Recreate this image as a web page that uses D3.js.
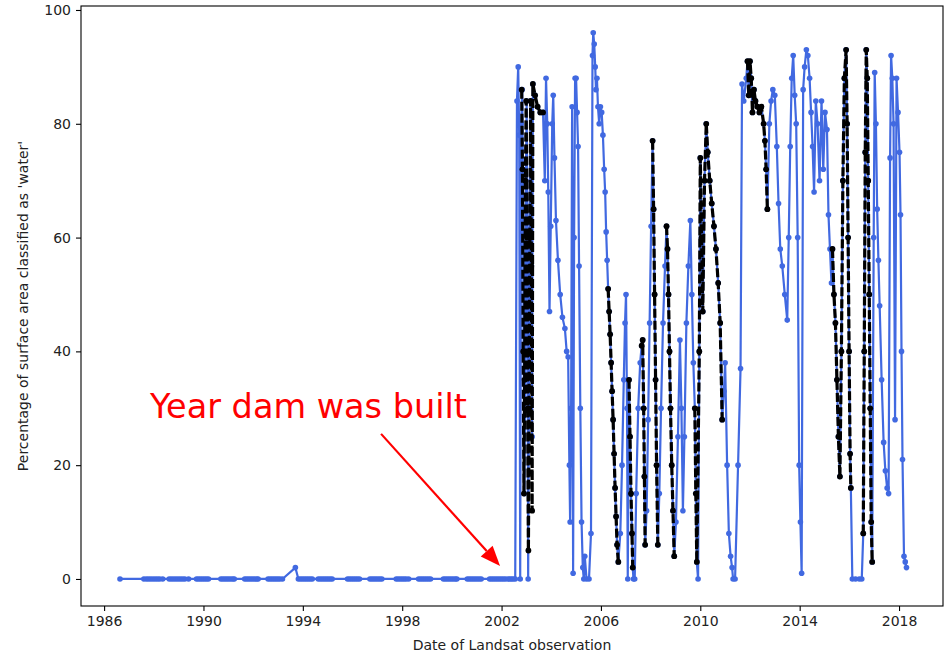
<!DOCTYPE html>
<html>
<head>
<meta charset="utf-8">
<script src="https://cdn.jsdelivr.net/npm/d3@7"></script>
<style>
  html, body { margin: 0; padding: 0; background: #fff; }
  svg { display: block; }
  text { font-family: "DejaVu Sans", sans-serif; }
</style>
</head>
<body>
<svg id="chart" width="947" height="656"></svg>
<script>
// ---------------- DATA (decimal year, % water) ----------------
const xTickYears = [1986, 1990, 1994, 1998, 2002, 2006, 2010, 2014, 2018];
const yTickValues = [0, 20, 40, 60, 80, 100];
const xLabel = "Date of Landsat observation";
const yLabel = "Percentage of surface area classified as 'water'";

// Observations before the dam (all ~0 %)
const preDamDates = [
  1986.64,
  1987.60, 1987.70, 1987.79, 1987.88, 1987.97, 1988.06, 1988.15, 1988.24, 1988.36,
  1988.62, 1988.71, 1988.80, 1988.89, 1988.98, 1989.07, 1989.16, 1989.25, 1989.40,
  1989.72, 1989.80, 1989.88, 1989.96, 1990.04, 1990.12, 1990.20,
  1990.70, 1990.78, 1990.86, 1990.94, 1991.02, 1991.10, 1991.18, 1991.24,
  1991.66, 1991.74, 1991.82, 1991.90, 1991.98, 1992.06, 1992.14, 1992.20,
  1992.60, 1992.68, 1992.76, 1992.84, 1992.92, 1993.00, 1993.08, 1993.18,
  1993.70, 1993.82, 1993.90, 1993.98, 1994.06, 1994.14, 1994.22, 1994.30, 1994.38,
  1994.62, 1994.70, 1994.78, 1994.86, 1994.94, 1995.02, 1995.10, 1995.18,
  1995.80, 1995.88, 1995.96, 1996.04, 1996.12, 1996.20, 1996.28,
  1996.70, 1996.78, 1996.86, 1996.94, 1997.02, 1997.10, 1997.18,
  1997.76, 1997.84, 1997.92, 1998.00, 1998.08, 1998.16, 1998.26,
  1998.66, 1998.74, 1998.82, 1998.90, 1998.98, 1999.06, 1999.14,
  1999.66, 1999.74, 1999.82, 1999.90, 1999.98, 2000.06, 2000.14, 2000.20,
  2000.62, 2000.70, 2000.78, 2000.86, 2000.94, 2001.02, 2001.10, 2001.18,
  2001.52, 2001.60, 2001.68, 2001.76, 2001.84, 2001.92, 2002.00, 2002.08, 2002.16, 2002.26
];
const preDamValues = preDamDates.map(d => d === 1993.70 ? 2 : 0);

// Observations after the dam: [decimal year, % water]
const postDamObs = [
  [2002.33, 0], [2002.40, 0], [2002.47, 0], [2002.55, 0], [2002.62, 84], [2002.67, 90], [2002.71, 78],
  [2002.75, 0], [2002.79, 80], [2002.83, 86], [2002.86, 72], [2002.89, 40], [2002.92, 15], [2002.95, 35],
  [2002.98, 70], [2003.01, 84], [2003.04, 60], [2003.07, 0], [2003.10, 30], [2003.13, 60], [2003.17, 84],
  [2003.20, 55], [2003.23, 25], [2003.26, 87], [2003.35, 85], [2003.45, 83], [2003.56, 82], [2003.67, 82],
  [2003.74, 70], [2003.79, 88], [2003.84, 80], [2003.88, 68], [2003.93, 47], [2003.98, 62], [2004.04, 80],
  [2004.08, 85], [2004.13, 74], [2004.19, 63], [2004.27, 56], [2004.36, 50], [2004.45, 46], [2004.55, 44],
  [2004.62, 40], [2004.68, 39], [2004.73, 20], [2004.76, 10], [2004.80, 30], [2004.84, 83], [2004.88, 1],
  [2004.92, 60], [2004.96, 88], [2005.00, 88], [2005.04, 82], [2005.08, 76], [2005.12, 55], [2005.17, 30],
  [2005.22, 10], [2005.27, 2], [2005.31, 0], [2005.35, 4], [2005.42, 0], [2005.52, 0], [2005.60, 8],
  [2005.66, 92], [2005.69, 96], [2005.73, 94], [2005.77, 90], [2005.80, 86], [2005.84, 88], [2005.88, 83],
  [2005.93, 80], [2005.98, 83], [2006.03, 82], [2006.08, 78], [2006.13, 72], [2006.17, 68], [2006.21, 61],
  [2006.25, 56], [2006.29, 51], [2006.33, 47], [2006.37, 43], [2006.41, 38], [2006.45, 33], [2006.49, 28],
  [2006.53, 22], [2006.57, 16], [2006.61, 11], [2006.65, 6], [2006.70, 3], [2006.78, 8], [2006.85, 20],
  [2006.92, 35], [2006.97, 45], [2007.01, 50], [2007.05, 30], [2007.08, 0], [2007.13, 35], [2007.17, 25],
  [2007.21, 15], [2007.25, 8], [2007.28, 2], [2007.31, 0], [2007.36, 0], [2007.42, 15], [2007.50, 30],
  [2007.58, 38], [2007.64, 41], [2007.68, 42], [2007.72, 30], [2007.75, 18], [2007.78, 6], [2007.84, 12],
  [2007.90, 28], [2007.96, 45], [2008.02, 62], [2008.08, 77], [2008.12, 65], [2008.16, 50], [2008.20, 35],
  [2008.24, 20], [2008.29, 6], [2008.35, 15], [2008.42, 30], [2008.50, 45], [2008.58, 55], [2008.64, 62],
  [2008.68, 58], [2008.72, 50], [2008.76, 40], [2008.80, 30], [2008.85, 20], [2008.90, 12], [2008.95, 4],
  [2009.02, 10], [2009.10, 25], [2009.18, 42], [2009.24, 30], [2009.30, 12], [2009.36, 25], [2009.44, 45],
  [2009.52, 55], [2009.60, 63], [2009.66, 50], [2009.72, 38], [2009.78, 30], [2009.82, 15], [2009.86, 3],
  [2009.91, 0], [2009.96, 40], [2010.00, 74], [2010.05, 60], [2010.10, 47], [2010.17, 70], [2010.24, 80],
  [2010.30, 75], [2010.38, 70], [2010.46, 66], [2010.55, 62], [2010.63, 58], [2010.72, 52], [2010.80, 45],
  [2010.88, 28], [2010.95, 33], [2011.00, 38], [2011.08, 20], [2011.15, 8], [2011.22, 4], [2011.28, 2],
  [2011.32, 0], [2011.40, 0], [2011.52, 20], [2011.62, 37], [2011.68, 87], [2011.75, 84], [2011.85, 88],
  [2011.90, 91], [2011.95, 85], [2012.00, 91], [2012.05, 88], [2012.10, 82], [2012.16, 86], [2012.22, 84],
  [2012.30, 83], [2012.38, 82], [2012.46, 83], [2012.55, 80], [2012.60, 77], [2012.65, 72], [2012.70, 65],
  [2012.78, 80], [2012.85, 84], [2012.92, 86], [2013.00, 85], [2013.08, 76], [2013.15, 66], [2013.22, 58],
  [2013.30, 55], [2013.40, 50], [2013.50, 45.5], [2013.56, 60], [2013.62, 76], [2013.68, 88], [2013.74, 92],
  [2013.80, 85], [2013.86, 80], [2013.92, 60], [2013.98, 20], [2014.03, 10], [2014.08, 1], [2014.14, 86],
  [2014.20, 90], [2014.27, 93], [2014.33, 92], [2014.40, 88], [2014.46, 82], [2014.52, 76], [2014.58, 68],
  [2014.65, 84], [2014.72, 80], [2014.80, 70], [2014.88, 84], [2014.95, 72], [2015.02, 82], [2015.10, 79],
  [2015.16, 64], [2015.22, 58], [2015.28, 52], [2015.32, 58], [2015.38, 50], [2015.44, 45], [2015.50, 35],
  [2015.56, 25], [2015.62, 18], [2015.68, 40], [2015.74, 70], [2015.80, 88], [2015.87, 93], [2015.91, 80],
  [2015.95, 60], [2015.99, 40], [2016.03, 22], [2016.06, 16], [2016.12, 0], [2016.25, 0], [2016.40, 0],
  [2016.50, 0], [2016.56, 8], [2016.60, 40], [2016.64, 75], [2016.68, 93], [2016.72, 88], [2016.76, 70],
  [2016.80, 50], [2016.84, 30], [2016.88, 10], [2016.92, 3], [2016.98, 60], [2017.02, 89], [2017.07, 80],
  [2017.12, 65], [2017.17, 56], [2017.22, 48], [2017.30, 35], [2017.38, 24], [2017.45, 19], [2017.52, 16],
  [2017.58, 15], [2017.64, 74], [2017.68, 92], [2017.73, 88], [2017.78, 80], [2017.84, 28], [2017.90, 88],
  [2017.96, 82], [2018.02, 75], [2018.06, 64], [2018.10, 40], [2018.14, 21], [2018.20, 4], [2018.25, 3],
  [2018.30, 2]
];

// Black dashed overlay periods: [decimal year, % water]; null value = break
const overlayObs = [
  [2002.81, 86], [2002.84, 72], [2002.87, 40], [2002.90, 15], [2002.93, 35], [2002.96, 70], [2002.99, 84],
  [2003.02, 60], [2003.05, 30], [2003.08, 5], [2003.11, 30], [2003.14, 60], [2003.17, 84], [2003.20, 55],
  [2003.23, 12], [2003.26, 87], [2003.35, 85], [2003.45, 83], [2003.56, 82], [2003.67, 82],
  [2003.70, null],
  [2006.29, 51], [2006.33, 47], [2006.37, 43], [2006.41, 38], [2006.45, 33], [2006.49, 28], [2006.53, 22],
  [2006.57, 16], [2006.61, 11], [2006.65, 6], [2006.70, 3],
  [2006.80, null],
  [2007.13, 35], [2007.17, 25], [2007.21, 15], [2007.25, 8], [2007.28, 2],
  [2007.40, null],
  [2007.64, 41], [2007.68, 42], [2007.72, 30], [2007.75, 18], [2007.78, 6],
  [2007.90, null],
  [2008.08, 77], [2008.12, 65], [2008.16, 50], [2008.20, 35], [2008.24, 20], [2008.29, 6],
  [2008.40, null],
  [2008.64, 62], [2008.68, 58], [2008.72, 50], [2008.76, 40], [2008.80, 30], [2008.85, 20], [2008.90, 12],
  [2008.95, 4],
  [2009.50, null],
  [2009.78, 30], [2009.82, 15], [2009.86, 3], [2009.96, 40], [2010.00, 74], [2010.05, 60], [2010.10, 47],
  [2010.17, 70], [2010.24, 80], [2010.30, 75], [2010.38, 70], [2010.46, 66], [2010.55, 62], [2010.63, 58],
  [2010.72, 52], [2010.80, 45], [2010.88, 28],
  [2011.50, null],
  [2011.90, 91], [2011.95, 85], [2012.00, 91], [2012.05, 88], [2012.10, 82], [2012.16, 86], [2012.22, 84],
  [2012.30, 83], [2012.38, 82], [2012.46, 83], [2012.55, 80], [2012.60, 77], [2012.65, 72], [2012.70, 65],
  [2013.00, null],
  [2015.32, 58], [2015.38, 50], [2015.44, 45], [2015.50, 35], [2015.56, 25], [2015.62, 18], [2015.68, 40],
  [2015.74, 70], [2015.80, 88], [2015.87, 93], [2015.91, 80], [2015.95, 60], [2015.99, 40], [2016.03, 22],
  [2016.06, 16],
  [2016.30, null],
  [2016.56, 8], [2016.60, 40], [2016.64, 75], [2016.68, 93], [2016.72, 88], [2016.76, 70], [2016.80, 50],
  [2016.84, 30], [2016.88, 10], [2016.92, 3]
];

// Annotation: text anchor and arrow (in data coordinates)
const annotationText = "Year dam was built";
const annotationTextPos = [1987.85, 28.3];
const annotationArrowFrom = [1997.15, 25.5];
const annotationArrowTo = [2001.94, 2.3];

// ---------------- CHART ----------------
const W = 947, H = 656;
const plot = { left: 81, right: 943, top: 6, bottom: 606 };
const svg = d3.select("#chart");

const x = d3.scaleLinear().domain([1985.07, 2019.77]).range([plot.left, plot.right]);
const y = d3.scaleLinear().domain([-4.75, 100.7]).range([plot.bottom, plot.top]);

const blueColor = "#4169e1";
const allObs = preDamDates.map((d, i) => [d, preDamValues[i]]).concat(postDamObs);

const g = svg.append("g");

// blue line + markers
const line = d3.line().x(d => x(d[0])).y(d => y(d[1])).defined(d => d[1] !== null);
g.append("path").datum(allObs)
  .attr("fill", "none").attr("stroke", blueColor).attr("stroke-width", 2.2)
  .attr("stroke-linejoin", "round").attr("d", line);
g.append("g").selectAll("circle").data(allObs).join("circle")
  .attr("cx", d => x(d[0])).attr("cy", d => y(d[1])).attr("r", 2.8).attr("fill", blueColor);

// black dashed overlay + markers
g.append("path").datum(overlayObs)
  .attr("fill", "none").attr("stroke", "#000").attr("stroke-width", 3.2)
  .attr("stroke-dasharray", "9,3").attr("d", line);
g.append("g").selectAll("circle").data(overlayObs.filter(d => d[1] !== null)).join("circle")
  .attr("cx", d => x(d[0])).attr("cy", d => y(d[1])).attr("r", 2.9).attr("fill", "#000");

// frame
svg.append("rect")
  .attr("x", plot.left).attr("y", plot.top)
  .attr("width", plot.right - plot.left).attr("height", plot.bottom - plot.top)
  .attr("fill", "none").attr("stroke", "#000").attr("stroke-width", 1.1);

// axes
const xAxis = svg.append("g").attr("transform", `translate(0,${plot.bottom})`)
  .call(d3.axisBottom(x).tickValues(xTickYears).tickFormat(d3.format("d")).tickSizeOuter(0).tickSize(5).tickPadding(5));
const yAxis = svg.append("g").attr("transform", `translate(${plot.left},0)`)
  .call(d3.axisLeft(y).tickValues(yTickValues).tickFormat(d3.format("d")).tickSizeOuter(0).tickSize(5).tickPadding(5));
[xAxis, yAxis].forEach(a => {
  a.select(".domain").remove();
  a.selectAll("line").attr("stroke", "#000").attr("stroke-width", 1.1);
  a.selectAll("text").attr("font-family", "DejaVu Sans, sans-serif").attr("font-size", 14).attr("fill", "#222");
});

// axis labels
svg.append("text").attr("x", (plot.left + plot.right) / 2).attr("y", 650)
  .attr("text-anchor", "middle").attr("font-size", 14).attr("fill", "#222").text(xLabel);
svg.append("text").attr("transform", `translate(28,${(plot.top + plot.bottom) / 2}) rotate(-90)`)
  .attr("text-anchor", "middle").attr("font-size", 14).attr("fill", "#222").text(yLabel);

// annotation
svg.append("text").attr("x", x(annotationTextPos[0])).attr("y", y(annotationTextPos[1]))
  .attr("font-family", "Liberation Sans, Arial, sans-serif").attr("font-size", 33.5)
  .attr("fill", "#ff0000").text(annotationText);

const ax0 = x(annotationArrowFrom[0]), ay0 = y(annotationArrowFrom[1]);
const ax1 = x(annotationArrowTo[0]), ay1 = y(annotationArrowTo[1]);
const ang = Math.atan2(ay1 - ay0, ax1 - ax0);
const headLen = 20, headW = 8;
const bx = ax1 - headLen * Math.cos(ang), by = ay1 - headLen * Math.sin(ang);
svg.append("line").attr("x1", ax0).attr("y1", ay0).attr("x2", bx).attr("y2", by)
  .attr("stroke", "#ff0000").attr("stroke-width", 2.2);
svg.append("path")
  .attr("d", `M${ax1},${ay1}L${bx + headW * Math.sin(ang)},${by - headW * Math.cos(ang)}L${bx - headW * Math.sin(ang)},${by + headW * Math.cos(ang)}Z`)
  .attr("fill", "#ff0000");
</script>
</body>
</html>
